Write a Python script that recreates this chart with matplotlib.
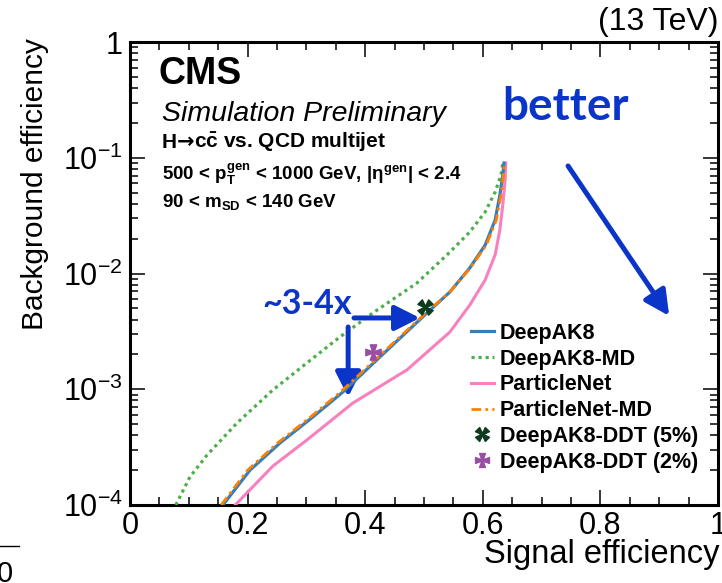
import matplotlib.pyplot as plt
import numpy as np
from matplotlib.path import Path
from matplotlib.transforms import Affine2D
from matplotlib.lines import Line2D
from matplotlib.offsetbox import TextArea, HPacker, AnchoredOffsetbox
from matplotlib.ticker import MultipleLocator, LogLocator, FixedLocator, FixedFormatter, NullFormatter

plt.rcParams['font.family'] = ['Liberation Sans', 'DejaVu Sans']
plt.rcParams['mathtext.fontset'] = 'custom'
plt.rcParams['mathtext.rm'] = 'Liberation Sans'
plt.rcParams['mathtext.it'] = 'Liberation Sans:italic'
plt.rcParams['mathtext.bf'] = 'Liberation Sans:bold'

# ROC curves (signal efficiency, background efficiency)
deepak8_sig = [0.158, 0.204, 0.255, 0.311, 0.362, 0.425, 0.505, 0.544, 0.578, 0.604, 0.621, 0.629, 0.634, 0.636]
deepak8_bkg = [1.0e-4, 2.0e-4, 3.43e-4, 5.76e-4, 9.46e-4, 1.90e-3, 4.56e-3, 6.92e-3, 1.12e-2, 1.76e-2, 2.90e-2, 4.76e-2, 7.10e-2, 9.0e-2]

pnet_md_sig = [0.155, 0.200, 0.251, 0.307, 0.358, 0.422, 0.503, 0.544, 0.579, 0.606, 0.623, 0.631, 0.635, 0.637]
pnet_md_bkg = [1.0e-4, 2.0e-4, 3.43e-4, 5.76e-4, 9.46e-4, 1.90e-3, 4.56e-3, 6.92e-3, 1.12e-2, 1.76e-2, 2.90e-2, 4.76e-2, 7.10e-2, 9.0e-2]

pnet_sig = [0.179, 0.243, 0.301, 0.379, 0.471, 0.544, 0.578, 0.604, 0.621, 0.629, 0.634, 0.638, 0.639]
pnet_bkg = [1.0e-4, 2.17e-4, 3.65e-4, 7.6e-4, 1.47e-3, 3.12e-3, 5.35e-3, 8.8e-3, 1.45e-2, 2.38e-2, 3.91e-2, 6.43e-2, 9.0e-2]

deepak8_md_sig = [0.078, 0.102, 0.131, 0.182, 0.243, 0.301, 0.357, 0.413, 0.488, 0.544, 0.578, 0.604, 0.621, 0.631, 0.634]
deepak8_md_bkg = [1.0e-4, 1.75e-4, 2.70e-4, 5.11e-4, 9.86e-4, 1.69e-3, 2.83e-3, 4.56e-3, 8.28e-3, 1.53e-2, 2.29e-2, 3.40e-2, 5.06e-2, 7.10e-2, 9.0e-2]

# DDT working points
ddt5_sig, ddt5_bkg = 0.502, 5.14e-3
ddt2_sig, ddt2_bkg = 0.413, 2.10e-3

x_ticks = [0, 0.2, 0.4, 0.6, 0.8, 1]
x_labels = ["0", "0.2", "0.4", "0.6", "0.8", "1"]
y_ticks = [1e-4, 1e-3, 1e-2, 1e-1, 1]
y_labels = [r"$10^{-4}$", r"$10^{-3}$", r"$10^{-2}$", r"$10^{-1}$", "1"]

blue = '#377eb8'
green = '#4daf4a'
pink = '#f781bf'
orange = '#ff7f00'
purple = '#984ea3'
darkgreen = '#0d3b1c'
arrow_blue = '#0a35c8'

W, H = 722, 583


def fx(px):
    return px / W


def fy(py):
    return 1 - py / H


# flared cross marker
a, b = 0.1, 0.42
cross = Path([(a, a), (b, 1), (-b, 1), (-a, a), (-1, b), (-1, -b), (-a, -a),
              (-b, -1), (b, -1), (a, -a), (1, -b), (1, b), (a, a)], closed=True)
xcross = cross.transformed(Affine2D().rotate_deg(45))

fig = plt.figure(figsize=(W / 100, H / 100), dpi=100)
ax = fig.add_axes([fx(130), fy(505), 588 / W, 463 / H])

ax.plot(deepak8_md_sig, deepak8_md_bkg, color=green, lw=2.3, ls=(0, (1, 1.2)), label='DeepAK8-MD', zorder=3)
ax.plot(pnet_sig, pnet_bkg, color=pink, lw=2.2, label='ParticleNet', zorder=3)
ax.plot(deepak8_sig, deepak8_bkg, color=blue, lw=2.3, label='DeepAK8', zorder=4)
ax.plot(pnet_md_sig, pnet_md_bkg, color=orange, lw=2.0, ls=(0, (3.5, 1.5, 1, 1.5)), label='ParticleNet-MD', zorder=5)
ax.plot([ddt5_sig], [ddt5_bkg], ls='none', marker=xcross, ms=11, color=darkgreen, zorder=6)
ax.plot([ddt2_sig], [ddt2_bkg], ls='none', marker=cross, ms=11, color=purple, zorder=6)

ax.set_yscale('log')
ax.set_xlim(0, 1)
ax.set_ylim(1e-4, 1)

ax.xaxis.set_major_locator(FixedLocator(x_ticks))
ax.xaxis.set_major_formatter(FixedFormatter(x_labels))
ax.xaxis.set_minor_locator(MultipleLocator(0.05))
ax.yaxis.set_major_locator(FixedLocator(y_ticks))
ax.yaxis.set_major_formatter(FixedFormatter(y_labels))
ax.yaxis.set_minor_locator(LogLocator(base=10, subs=np.arange(2, 10)))
ax.yaxis.set_minor_formatter(NullFormatter())

ax.tick_params(which='both', direction='in', top=True, right=True, width=1.1, labelsize=22, colors='black')
ax.tick_params(which='major', length=11)
ax.tick_params(which='minor', length=5.5)
ax.tick_params(axis='x', pad=4)
ax.tick_params(axis='y', pad=5)
for s in ax.spines.values():
    s.set_linewidth(2.2)

fig.text(fx(35), fy(38), "Background efficiency", rotation=90, ha='center', va='top', fontsize=21.5)
fig.text(fx(719), fy(563), "Signal efficiency", ha='right', va='baseline', fontsize=23.5)
fig.text(fx(719), fy(30), "(13 TeV)", ha='right', va='baseline', fontsize=23)

fig.text(fx(158), fy(84), "CMS", fontsize=27, fontweight='bold', va='baseline')
fig.text(fx(162), fy(121), "Simulation Preliminary", fontsize=20.5, fontstyle='italic', va='baseline')

# process line: the arrow glyph comes from DejaVu, the rest from Liberation
bold15 = dict(fontsize=15, fontweight='bold')
process = HPacker(children=[
    TextArea("H", textprops=bold15),
    TextArea("→", textprops=dict(bold15, family='DejaVu Sans')),
    TextArea(r"c$\mathbf{\bar{c}}$ vs. QCD multijet", textprops=bold15),
], align='baseline', pad=0, sep=0)
fig.add_artist(AnchoredOffsetbox(loc='lower left', child=process, pad=0, borderpad=0, frameon=False,
                                 bbox_to_anchor=(fx(162), fy(154)), bbox_transform=fig.transFigure))

fig.text(fx(162), fy(180), r"500 < $\mathbf{p_{T}^{gen}}$ < 1000 GeV, |$\mathbf{\eta^{gen}}$| < 2.4",
         fontsize=13.5, fontweight='bold', va='baseline')
fig.text(fx(162), fy(207), r"90 < $\mathbf{m_{SD}}$ < 140 GeV", fontsize=13.5, fontweight='bold', va='baseline')

fig.text(fx(502), fy(120), "better", fontsize=33, fontweight='bold', color=arrow_blue, family='Lato', va='baseline')
fig.text(fx(262), fy(314), "~3-4x", fontsize=24.5, fontweight='bold', color=arrow_blue, family='Lato', va='baseline')

arrow_props = dict(arrowstyle='-|>,head_length=0.75,head_width=0.38', lw=3.6, color=arrow_blue,
                   mutation_scale=20, shrinkA=0, shrinkB=0)
ax.annotate('', xy=(0.493, 4.13e-3), xytext=(0.381, 4.13e-3), arrowprops=arrow_props)
ax.annotate('', xy=(0.371, 8.57e-4), xytext=(0.371, 3.45e-3), arrowprops=arrow_props)
ax.annotate('', xy=(0.917, 4.3e-3), xytext=(0.745, 0.0849), arrowprops=arrow_props)

handles = [
    Line2D([], [], color=blue, lw=2.3),
    Line2D([], [], color=green, lw=2.3, ls=(0, (1, 1.2))),
    Line2D([], [], color=pink, lw=2.2),
    Line2D([], [], color=orange, lw=2.0, ls=(0, (3.5, 1.5, 1, 1.5))),
    Line2D([], [], ls='none', marker=xcross, ms=10, color=darkgreen),
    Line2D([], [], ls='none', marker=cross, ms=10, color=purple),
]
labels = ['DeepAK8', 'DeepAK8-MD', 'ParticleNet', 'ParticleNet-MD', 'DeepAK8-DDT (5%)', 'DeepAK8-DDT (2%)']
fig.legend(handles, labels, loc='upper left', bbox_to_anchor=(fx(471), fy(323)), frameon=False,
           prop={'family': 'Liberation Sans', 'weight': 'bold', 'size': 15.5},
           handlelength=1.05, handletextpad=0.3, labelspacing=0.22, borderpad=0, borderaxespad=0)

# pieces of the neighbouring panel at the bottom edge
fig.text(fx(-3), fy(582), "0", fontsize=21, ha='left', va='baseline')
fig.add_artist(Line2D([0, fx(19)], [fy(546), fy(546)], color='black', lw=1.0))

fig.savefig('out.png', dpi=100)
